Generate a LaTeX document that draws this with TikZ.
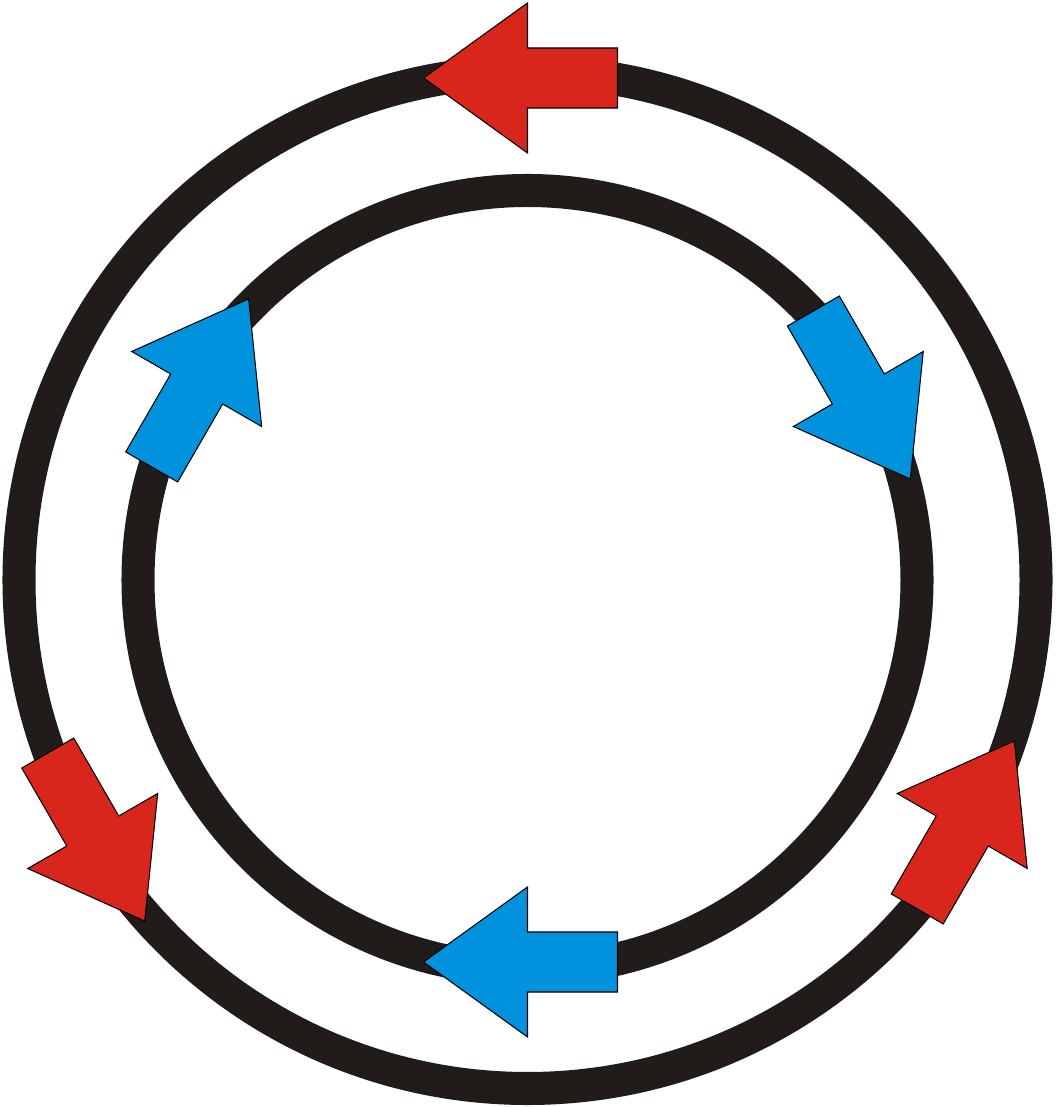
\documentclass[tikz,border=0pt]{standalone}
\usepackage{tikz}
\definecolor{ringblack}{HTML}{211C19}
\definecolor{arrowred}{HTML}{D9261C}
\definecolor{arrowblue}{HTML}{0092DC}
\tikzset{ring/.style={draw=ringblack,line width=0.33cm},
  redarrow/.style={fill=arrowred,draw=black,line width=0.3pt},
  bluearrow/.style={fill=arrowblue,draw=black,line width=0.3pt}}

\begin{document}
\begin{tikzpicture}[x=0.01cm,y=0.01cm]
\useasboundingbox (-527.5,-527) rectangle (527.5,580);
\coordinate (C) at (0,0);
\draw[ring] (C) circle (508.5);
\draw[ring] (C) circle (389.5);
% outer ring, counterclockwise
\draw[redarrow] (-104,502) -- (0,577) -- (0,532) -- (90,532) -- (90,472) -- (0,472) -- (0,427) -- cycle;
\draw[redarrow,rotate=120] (-104,502) -- (0,577) -- (0,532) -- (90,532) -- (90,472) -- (0,472) -- (0,427) -- cycle;
\draw[redarrow,rotate=240] (-104,502) -- (0,577) -- (0,532) -- (90,532) -- (90,472) -- (0,472) -- (0,427) -- cycle;
% inner ring, clockwise
\draw[bluearrow] (-104,-382) -- (0,-307) -- (0,-352) -- (90,-352) -- (90,-412) -- (0,-412) -- (0,-457) -- cycle;
\draw[bluearrow,rotate=120] (-104,-382) -- (0,-307) -- (0,-352) -- (90,-352) -- (90,-412) -- (0,-412) -- (0,-457) -- cycle;
\draw[bluearrow,rotate=240] (-104,-382) -- (0,-307) -- (0,-352) -- (90,-352) -- (90,-412) -- (0,-412) -- (0,-457) -- cycle;
\end{tikzpicture}
\end{document}
